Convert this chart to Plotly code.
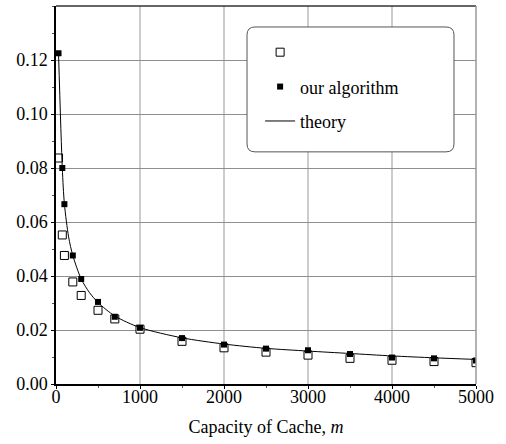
import plotly.graph_objects as go

# ---- data ----
cache_x = [30, 75, 100, 200, 300, 500, 700, 1000, 1500, 2000, 2500, 3000, 3500, 4000, 4500, 5000]
hollow_y = [0.0837, 0.0552, 0.0476, 0.0378, 0.0328, 0.0273, 0.0241, 0.0203, 0.0158, 0.0134,
            0.0118, 0.0107, 0.0095, 0.0088, 0.0083, 0.0079]
algo_y = [0.1225, 0.0800, 0.0666, 0.0476, 0.0389, 0.0304, 0.0249, 0.0208, 0.0170, 0.0146,
          0.0131, 0.0125, 0.0111, 0.0098, 0.0095, 0.0087]
theory_x = [30, 75, 100, 150, 200, 300, 400, 500, 700, 1000, 1500, 2000, 2500, 3000, 3500, 4000, 4500, 5000]
theory_y = [0.1225, 0.0800, 0.0667, 0.0545, 0.0476, 0.0389, 0.0338, 0.0302, 0.0252, 0.0209,
            0.0171, 0.0148, 0.0132, 0.0122, 0.0113, 0.0104, 0.0097, 0.0091]
x_ticks = [0, 1000, 2000, 3000, 4000, 5000]
y_ticks = [0.00, 0.02, 0.04, 0.06, 0.08, 0.10, 0.12]

FONT = "Liberation Serif, Times New Roman, serif"

fig = go.Figure()
fig.add_trace(go.Scatter(
    x=cache_x, y=hollow_y, mode="markers", name="", legendgroup="a", legendrank=1,
    marker=dict(symbol="square", size=8, color="white", line=dict(color="black", width=1)),
))
fig.add_trace(go.Scatter(
    x=theory_x, y=theory_y, mode="lines", name="theory", legendgroup="c", legendrank=3,
    line=dict(color="black", width=1, shape="spline", smoothing=0.8),
))
fig.add_trace(go.Scatter(
    x=cache_x, y=algo_y, mode="markers", name="our algorithm", legendgroup="b", legendrank=2,
    marker=dict(symbol="square", size=6, color="black", line=dict(width=0)),
))

# rounded legend frame (paper coords)
x0, x1, yb, yt = 0.4548, 0.9476, 0.6141, 0.9445
rx, ry = 0.019, 0.021
path = (f"M {x0+rx},{yt} L {x1-rx},{yt} Q {x1},{yt} {x1},{yt-ry} "
        f"L {x1},{yb+ry} Q {x1},{yb} {x1-rx},{yb} "
        f"L {x0+rx},{yb} Q {x0},{yb} {x0},{yb+ry} "
        f"L {x0},{yt-ry} Q {x0},{yt} {x0+rx},{yt} Z")

fig.update_layout(
    width=506, height=444,
    margin=dict(l=56, r=30, t=6, b=60),
    paper_bgcolor="white", plot_bgcolor="white",
    font=dict(family=FONT, size=18, color="black"),
    showlegend=True,
    legend=dict(
        x=0.486, y=0.926, xanchor="left", yanchor="top",
        bgcolor="rgba(0,0,0,0)", borderwidth=0, tracegroupgap=8,
        font=dict(family=FONT, size=18, color="black"),
    ),
    shapes=[
        dict(type="path", xref="paper", yref="paper", path=path,
             line=dict(color="#555555", width=1), fillcolor="white", layer="above"),
        dict(type="line", xref="paper", yref="paper", x0=0, x1=1, y0=1, y1=1,
             line=dict(color="#333333", width=1.5)),
        dict(type="line", xref="paper", yref="paper", x0=1, x1=1, y0=0, y1=1,
             line=dict(color="#999999", width=1.5)),
    ],
    xaxis=dict(
        range=[0, 5000], tickvals=x_ticks, ticktext=[str(v) for v in x_ticks],
        showline=True, linecolor="black", linewidth=1.5,
        ticks="outside", ticklen=3, tickcolor="black", ticklabelstandoff=-7,
        showgrid=True, gridcolor="#cccccc", gridwidth=1.5, zeroline=False,
        minor=dict(dtick=500, tick0=0, ticks="outside", ticklen=2, tickcolor="#555555", showgrid=False),
        title=dict(text="Capacity of Cache, <i>m</i>", font=dict(family=FONT, size=18), standoff=14),
        tickfont=dict(family=FONT, size=18),
    ),
    yaxis=dict(
        range=[0, 0.14], tickvals=y_ticks, tickformat=".2f",
        showline=True, linecolor="black", linewidth=1.5,
        ticks="outside", ticklen=3, tickcolor="black",
        showgrid=True, gridcolor="#8f8f8f", gridwidth=1, zeroline=False,
        minor=dict(dtick=0.01, tick0=0, ticks="outside", ticklen=2, tickcolor="#555555", showgrid=False),
        tickfont=dict(family=FONT, size=18),
    ),
)

fig.write_html("out.html")
